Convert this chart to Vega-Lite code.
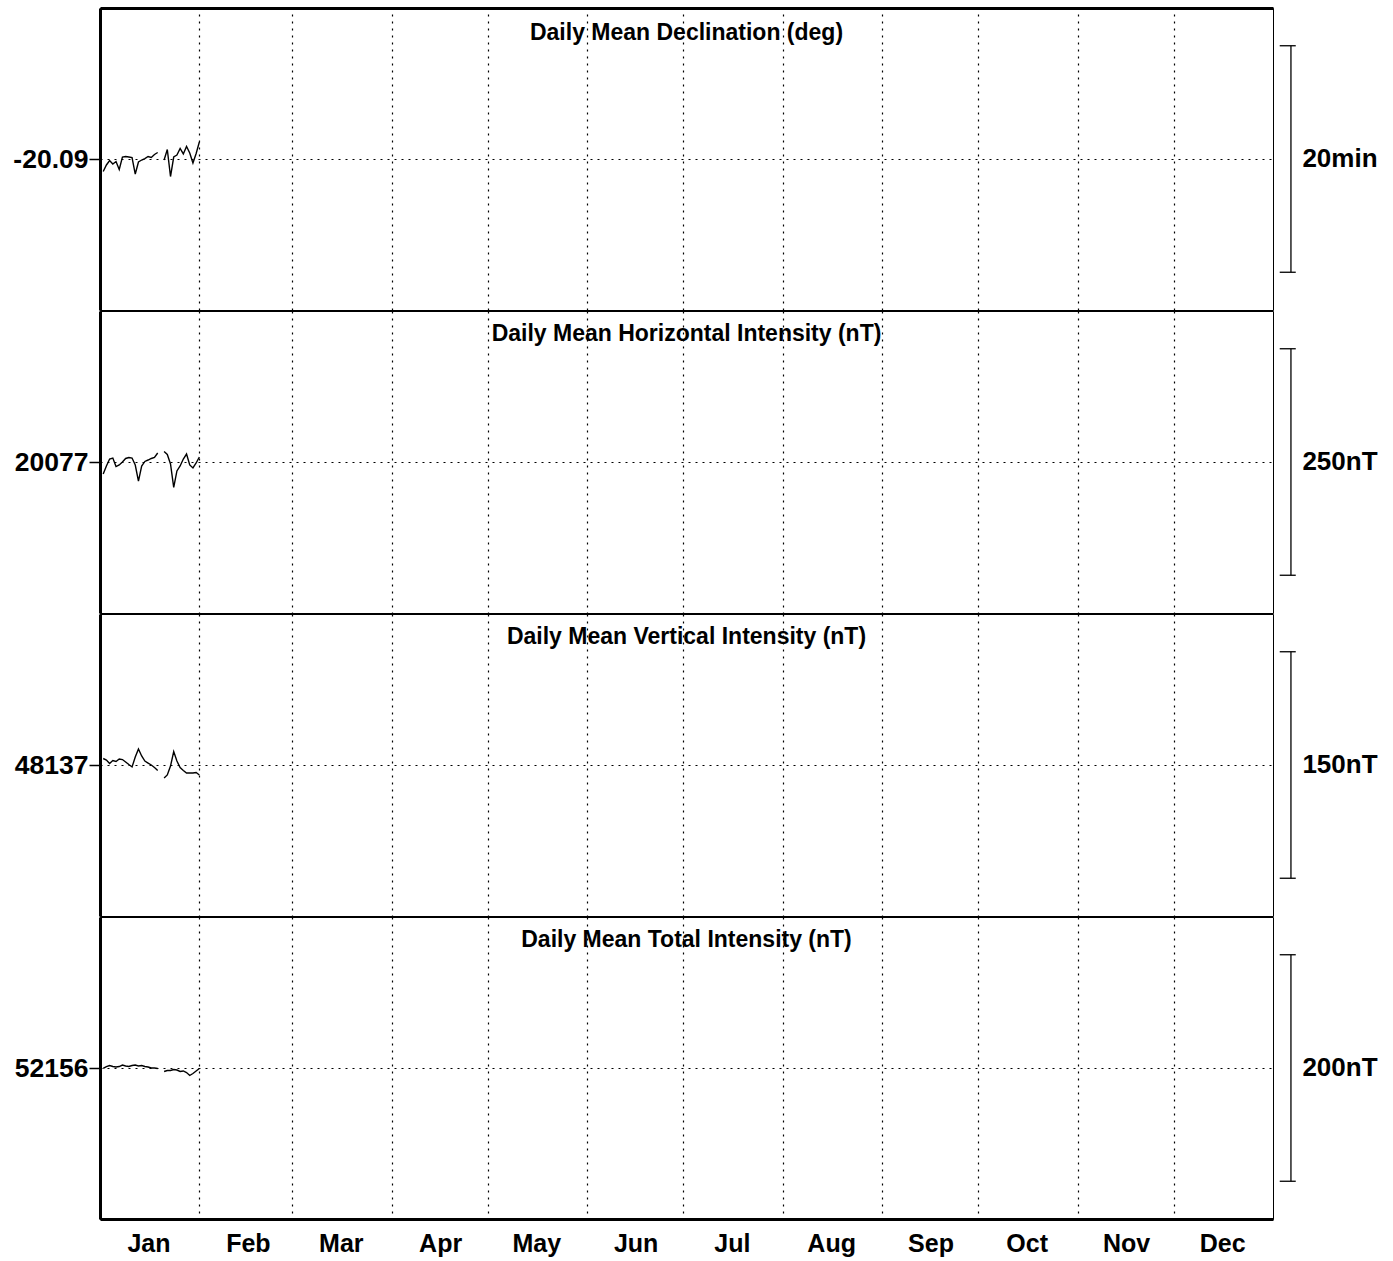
{
  "$schema": "https://vega.github.io/schema/vega-lite/v6.json",
  "background": "white",
  "padding": {"left": 7, "top": 7, "right": 5, "bottom": 5},
  "spacing": -4,
  "datasets": {
    "obs": [
      {"date": "2024-01-02T00:00:00", "seg": 1, "D": -20.1084, "H": 20063.8, "Z": 48141.3, "F": 52155.6},
      {"date": "2024-01-03T00:00:00", "seg": 1, "D": -20.0988, "H": 20072.6, "Z": 48140.3, "F": 52157.3},
      {"date": "2024-01-04T00:00:00", "seg": 1, "D": -20.0922, "H": 20080.3, "Z": 48138.0, "F": 52158.2},
      {"date": "2024-01-05T00:00:00", "seg": 1, "D": -20.0974, "H": 20081.4, "Z": 48140.0, "F": 52157.3},
      {"date": "2024-01-06T00:00:00", "seg": 1, "D": -20.0937, "H": 20072.0, "Z": 48139.3, "F": 52156.9},
      {"date": "2024-01-07T00:00:00", "seg": 1, "D": -20.1055, "H": 20073.7, "Z": 48141.0, "F": 52157.3},
      {"date": "2024-01-08T00:00:00", "seg": 1, "D": -20.0871, "H": 20077.0, "Z": 48140.6, "F": 52158.6},
      {"date": "2024-01-09T00:00:00", "seg": 1, "D": -20.0863, "H": 20080.9, "Z": 48139.0, "F": 52157.8},
      {"date": "2024-01-10T00:00:00", "seg": 1, "D": -20.0871, "H": 20082.0, "Z": 48137.3, "F": 52157.3},
      {"date": "2024-01-11T00:00:00", "seg": 1, "D": -20.0878, "H": 20081.4, "Z": 48135.7, "F": 52158.2},
      {"date": "2024-01-12T00:00:00", "seg": 1, "D": -20.1121, "H": 20073.7, "Z": 48142.3, "F": 52158.6},
      {"date": "2024-01-13T00:00:00", "seg": 1, "D": -20.0944, "H": 20056.0, "Z": 48147.6, "F": 52157.8},
      {"date": "2024-01-14T00:00:00", "seg": 1, "D": -20.0915, "H": 20072.6, "Z": 48143.0, "F": 52158.2},
      {"date": "2024-01-15T00:00:00", "seg": 1, "D": -20.0893, "H": 20077.6, "Z": 48139.6, "F": 52157.3},
      {"date": "2024-01-16T00:00:00", "seg": 1, "D": -20.0863, "H": 20079.2, "Z": 48138.3, "F": 52156.9},
      {"date": "2024-01-17T00:00:00", "seg": 1, "D": -20.0878, "H": 20080.9, "Z": 48137.0, "F": 52156.0},
      {"date": "2024-01-18T00:00:00", "seg": 1, "D": -20.0834, "H": 20082.0, "Z": 48135.3, "F": 52156.0},
      {"date": "2024-01-19T00:00:00", "seg": 1, "D": -20.0804, "H": 20086.9, "Z": 48133.4, "F": 52155.6},
      {"date": "2024-01-21T00:00:00", "seg": 2, "D": -20.0915, "H": 20088.6, "Z": 48128.4, "F": 52152.9},
      {"date": "2024-01-22T00:00:00", "seg": 2, "D": -20.0760, "H": 20085.3, "Z": 48130.4, "F": 52153.8},
      {"date": "2024-01-23T00:00:00", "seg": 2, "D": -20.1158, "H": 20074.8, "Z": 48136.3, "F": 52153.8},
      {"date": "2024-01-24T00:00:00", "seg": 2, "D": -20.0871, "H": 20048.9, "Z": 48145.9, "F": 52154.7},
      {"date": "2024-01-25T00:00:00", "seg": 2, "D": -20.0841, "H": 20067.1, "Z": 48139.6, "F": 52154.2},
      {"date": "2024-01-26T00:00:00", "seg": 2, "D": -20.0745, "H": 20072.6, "Z": 48135.3, "F": 52152.9},
      {"date": "2024-01-27T00:00:00", "seg": 2, "D": -20.0826, "H": 20080.3, "Z": 48133.4, "F": 52153.4},
      {"date": "2024-01-28T00:00:00", "seg": 2, "D": -20.0716, "H": 20085.8, "Z": 48131.7, "F": 52152.0},
      {"date": "2024-01-29T00:00:00", "seg": 2, "D": -20.0812, "H": 20073.7, "Z": 48131.7, "F": 52149.4},
      {"date": "2024-01-30T00:00:00", "seg": 2, "D": -20.0959, "H": 20070.4, "Z": 48131.7, "F": 52151.1},
      {"date": "2024-01-31T00:00:00", "seg": 2, "D": -20.0819, "H": 20075.9, "Z": 48132.0, "F": 52153.4},
      {"date": "2024-02-01T00:00:00", "seg": 2, "D": -20.0650, "H": 20082.5, "Z": 48130.4, "F": 52155.6}
    ]
  },
  "config": {
    "view": {"stroke": "black", "strokeWidth": 1},
    "font": "Liberation Sans",
    "axis": {"labelColor": "black", "labelFont": "Liberation Sans", "labelFontWeight": "bold", "gridColor": "black", "gridOpacity": 1, "gridDash": [2, 5], "gridWidth": 1.2, "domainColor": "black", "tickColor": "black"},
    "title": {"font": "Liberation Sans", "fontWeight": "bold", "fontSize": 23, "color": "black", "anchor": "middle", "frame": "group", "baseline": "middle", "offset": -35}
  },
  "vconcat": [
    {
      "width": 1173, "height": 302,
      "title": {"text": "Daily Mean Declination (deg)", "offset": -37},
      "resolve": {"axis": {"y": "independent"}},
      "layer": [
        {
          "data": {"name": "obs"},
          "mark": {"type": "line", "color": "black", "strokeWidth": 1.4},
          "encoding": {
            "x": {"field": "date", "type": "temporal", "scale": {"domain": [{"year": 2024, "month": 1, "date": 1}, {"year": 2025, "month": 1, "date": 1}]},
              "axis": {"orient": "top", "title": null, "labels": false, "ticks": false, "tickSize": 0, "domain": true, "domainWidth": 3, "grid": true,
                "values": [{"year": 2024, "month": 1, "date": 1}, {"year": 2024, "month": 2, "date": 1}, {"year": 2024, "month": 3, "date": 1}, {"year": 2024, "month": 4, "date": 1}, {"year": 2024, "month": 5, "date": 1}, {"year": 2024, "month": 6, "date": 1}, {"year": 2024, "month": 7, "date": 1}, {"year": 2024, "month": 8, "date": 1}, {"year": 2024, "month": 9, "date": 1}, {"year": 2024, "month": 10, "date": 1}, {"year": 2024, "month": 11, "date": 1}, {"year": 2024, "month": 12, "date": 1}]}},
            "y": {"field": "D", "type": "quantitative", "scale": {"domain": [-20.31222, -19.86778], "nice": false, "zero": false},
              "axis": {"orient": "left", "title": null, "values": [-20.09], "format": ".2f", "labelExpr": "replace(datum.label, '\u2212', '-')", "tickSize": 11, "tickWidth": 1.5, "labelPadding": 1, "labelFontSize": 26.5, "domain": true, "domainWidth": 3, "grid": true, "minExtent": 92, "maxExtent": 92}},
            "detail": {"field": "seg", "type": "nominal"}
          }
        },
        {
          "data": {"values": [{"lo": -20.25667, "hi": -19.92333, "mid": -20.09, "label": "20min"}]},
          "layer": [
            {"mark": {"type": "rule", "color": "black", "strokeWidth": 1.3},
             "encoding": {"x": {"datum": {"year": 2025, "month": 1, "date": 6, "hours": 14, "minutes": 24}}, "y": {"field": "lo", "type": "quantitative", "axis": null}, "y2": {"field": "hi"}}},
            {"mark": {"type": "rule", "color": "black", "strokeWidth": 1.3},
             "encoding": {"x": {"datum": {"year": 2025, "month": 1, "date": 3, "hours": 2, "minutes": 24}}, "x2": {"datum": {"year": 2025, "month": 1, "date": 8, "hours": 2, "minutes": 24}}, "y": {"field": "lo", "type": "quantitative", "axis": null}}},
            {"mark": {"type": "rule", "color": "black", "strokeWidth": 1.3},
             "encoding": {"x": {"datum": {"year": 2025, "month": 1, "date": 3, "hours": 2, "minutes": 24}}, "x2": {"datum": {"year": 2025, "month": 1, "date": 8, "hours": 2, "minutes": 24}}, "y": {"field": "hi", "type": "quantitative", "axis": null}}},
            {"mark": {"type": "text", "color": "black", "fontSize": 26, "fontWeight": "bold", "font": "Liberation Sans", "align": "center", "baseline": "middle"},
             "encoding": {"x": {"datum": {"year": 2025, "month": 1, "date": 21, "hours": 21, "minutes": 36}}, "text": {"field": "label"},
               "y": {"field": "mid", "type": "quantitative", "axis": {"orient": "right", "title": null, "labels": false, "ticks": true, "tickSize": -4, "tickWidth": 1.5, "values": [-20.09], "domain": true, "domainWidth": 3, "grid": false}}}}
          ]
        }
      ]
    },
    {
      "width": 1173, "height": 302,
      "title": {"text": "Daily Mean Horizontal Intensity (nT)"},
      "resolve": {"axis": {"y": "independent"}},
      "layer": [
        {
          "data": {"name": "obs"},
          "mark": {"type": "line", "color": "black", "strokeWidth": 1.4},
          "encoding": {
            "x": {"field": "date", "type": "temporal", "scale": {"domain": [{"year": 2024, "month": 1, "date": 1}, {"year": 2025, "month": 1, "date": 1}]},
              "axis": {"orient": "bottom", "title": null, "labels": false, "ticks": false, "tickSize": 0, "domain": false, "grid": true,
                "values": [{"year": 2024, "month": 1, "date": 1}, {"year": 2024, "month": 2, "date": 1}, {"year": 2024, "month": 3, "date": 1}, {"year": 2024, "month": 4, "date": 1}, {"year": 2024, "month": 5, "date": 1}, {"year": 2024, "month": 6, "date": 1}, {"year": 2024, "month": 7, "date": 1}, {"year": 2024, "month": 8, "date": 1}, {"year": 2024, "month": 9, "date": 1}, {"year": 2024, "month": 10, "date": 1}, {"year": 2024, "month": 11, "date": 1}, {"year": 2024, "month": 12, "date": 1}]}},
            "y": {"field": "H", "type": "quantitative", "scale": {"domain": [19910.333, 20243.667], "nice": false, "zero": false},
              "axis": {"orient": "left", "title": null, "values": [20077], "format": "d", "tickSize": 11, "tickWidth": 1.5, "labelPadding": 1, "labelFontSize": 26.5, "domain": true, "domainWidth": 3, "grid": true, "minExtent": 92, "maxExtent": 92}},
            "detail": {"field": "seg", "type": "nominal"}
          }
        },
        {
          "data": {"values": [{"lo": 19952, "hi": 20202, "mid": 20077, "label": "250nT"}]},
          "layer": [
            {"mark": {"type": "rule", "color": "black", "strokeWidth": 1.3},
             "encoding": {"x": {"datum": {"year": 2025, "month": 1, "date": 6, "hours": 14, "minutes": 24}}, "y": {"field": "lo", "type": "quantitative", "axis": null}, "y2": {"field": "hi"}}},
            {"mark": {"type": "rule", "color": "black", "strokeWidth": 1.3},
             "encoding": {"x": {"datum": {"year": 2025, "month": 1, "date": 3, "hours": 2, "minutes": 24}}, "x2": {"datum": {"year": 2025, "month": 1, "date": 8, "hours": 2, "minutes": 24}}, "y": {"field": "lo", "type": "quantitative", "axis": null}}},
            {"mark": {"type": "rule", "color": "black", "strokeWidth": 1.3},
             "encoding": {"x": {"datum": {"year": 2025, "month": 1, "date": 3, "hours": 2, "minutes": 24}}, "x2": {"datum": {"year": 2025, "month": 1, "date": 8, "hours": 2, "minutes": 24}}, "y": {"field": "hi", "type": "quantitative", "axis": null}}},
            {"mark": {"type": "text", "color": "black", "fontSize": 26, "fontWeight": "bold", "font": "Liberation Sans", "align": "center", "baseline": "middle"},
             "encoding": {"x": {"datum": {"year": 2025, "month": 1, "date": 21, "hours": 21, "minutes": 36}}, "text": {"field": "label"},
               "y": {"field": "mid", "type": "quantitative", "axis": {"orient": "right", "title": null, "labels": false, "ticks": true, "tickSize": -4, "tickWidth": 1.5, "values": [20077], "domain": true, "domainWidth": 3, "grid": false}}}}
          ]
        }
      ]
    },
    {
      "width": 1173, "height": 302,
      "title": {"text": "Daily Mean Vertical Intensity (nT)"},
      "resolve": {"axis": {"y": "independent"}},
      "layer": [
        {
          "data": {"name": "obs"},
          "mark": {"type": "line", "color": "black", "strokeWidth": 1.4},
          "encoding": {
            "x": {"field": "date", "type": "temporal", "scale": {"domain": [{"year": 2024, "month": 1, "date": 1}, {"year": 2025, "month": 1, "date": 1}]},
              "axis": {"orient": "bottom", "title": null, "labels": false, "ticks": false, "tickSize": 0, "domain": false, "grid": true,
                "values": [{"year": 2024, "month": 1, "date": 1}, {"year": 2024, "month": 2, "date": 1}, {"year": 2024, "month": 3, "date": 1}, {"year": 2024, "month": 4, "date": 1}, {"year": 2024, "month": 5, "date": 1}, {"year": 2024, "month": 6, "date": 1}, {"year": 2024, "month": 7, "date": 1}, {"year": 2024, "month": 8, "date": 1}, {"year": 2024, "month": 9, "date": 1}, {"year": 2024, "month": 10, "date": 1}, {"year": 2024, "month": 11, "date": 1}, {"year": 2024, "month": 12, "date": 1}]}},
            "y": {"field": "Z", "type": "quantitative", "scale": {"domain": [48037, 48237], "nice": false, "zero": false},
              "axis": {"orient": "left", "title": null, "values": [48137], "format": "d", "tickSize": 11, "tickWidth": 1.5, "labelPadding": 1, "labelFontSize": 26.5, "domain": true, "domainWidth": 3, "grid": true, "minExtent": 92, "maxExtent": 92}},
            "detail": {"field": "seg", "type": "nominal"}
          }
        },
        {
          "data": {"values": [{"lo": 48062, "hi": 48212, "mid": 48137, "label": "150nT"}]},
          "layer": [
            {"mark": {"type": "rule", "color": "black", "strokeWidth": 1.3},
             "encoding": {"x": {"datum": {"year": 2025, "month": 1, "date": 6, "hours": 14, "minutes": 24}}, "y": {"field": "lo", "type": "quantitative", "axis": null}, "y2": {"field": "hi"}}},
            {"mark": {"type": "rule", "color": "black", "strokeWidth": 1.3},
             "encoding": {"x": {"datum": {"year": 2025, "month": 1, "date": 3, "hours": 2, "minutes": 24}}, "x2": {"datum": {"year": 2025, "month": 1, "date": 8, "hours": 2, "minutes": 24}}, "y": {"field": "lo", "type": "quantitative", "axis": null}}},
            {"mark": {"type": "rule", "color": "black", "strokeWidth": 1.3},
             "encoding": {"x": {"datum": {"year": 2025, "month": 1, "date": 3, "hours": 2, "minutes": 24}}, "x2": {"datum": {"year": 2025, "month": 1, "date": 8, "hours": 2, "minutes": 24}}, "y": {"field": "hi", "type": "quantitative", "axis": null}}},
            {"mark": {"type": "text", "color": "black", "fontSize": 26, "fontWeight": "bold", "font": "Liberation Sans", "align": "center", "baseline": "middle"},
             "encoding": {"x": {"datum": {"year": 2025, "month": 1, "date": 21, "hours": 21, "minutes": 36}}, "text": {"field": "label"},
               "y": {"field": "mid", "type": "quantitative", "axis": {"orient": "right", "title": null, "labels": false, "ticks": true, "tickSize": -4, "tickWidth": 1.5, "values": [48137], "domain": true, "domainWidth": 3, "grid": false}}}}
          ]
        }
      ]
    },
    {
      "width": 1173, "height": 302,
      "title": {"text": "Daily Mean Total Intensity (nT)"},
      "resolve": {"axis": {"y": "independent"}},
      "layer": [
        {
          "data": {"name": "obs"},
          "mark": {"type": "line", "color": "black", "strokeWidth": 1.4},
          "encoding": {
            "x": {"field": "date", "type": "temporal", "scale": {"domain": [{"year": 2024, "month": 1, "date": 1}, {"year": 2025, "month": 1, "date": 1}]},
              "axis": {"orient": "bottom", "title": null, "labels": true, "format": "%b", "labelOffset": 48.5, "labelAlign": "center", "labelBaseline": "top", "labelPadding": 12, "labelFontSize": 25, "labelFlush": false, "labelOverlap": false, "ticks": false, "tickSize": 0, "domain": true, "domainWidth": 3, "grid": true,
                "values": [{"year": 2024, "month": 1, "date": 1}, {"year": 2024, "month": 2, "date": 1}, {"year": 2024, "month": 3, "date": 1}, {"year": 2024, "month": 4, "date": 1}, {"year": 2024, "month": 5, "date": 1}, {"year": 2024, "month": 6, "date": 1}, {"year": 2024, "month": 7, "date": 1}, {"year": 2024, "month": 8, "date": 1}, {"year": 2024, "month": 9, "date": 1}, {"year": 2024, "month": 10, "date": 1}, {"year": 2024, "month": 11, "date": 1}, {"year": 2024, "month": 12, "date": 1}]}},
            "y": {"field": "F", "type": "quantitative", "scale": {"domain": [52022.667, 52289.333], "nice": false, "zero": false},
              "axis": {"orient": "left", "title": null, "values": [52156], "format": "d", "tickSize": 11, "tickWidth": 1.5, "labelPadding": 1, "labelFontSize": 26.5, "domain": true, "domainWidth": 3, "grid": true, "minExtent": 92, "maxExtent": 92}},
            "detail": {"field": "seg", "type": "nominal"}
          }
        },
        {
          "data": {"values": [{"lo": 52056, "hi": 52256, "mid": 52156, "label": "200nT"}]},
          "layer": [
            {"mark": {"type": "rule", "color": "black", "strokeWidth": 1.3},
             "encoding": {"x": {"datum": {"year": 2025, "month": 1, "date": 6, "hours": 14, "minutes": 24}}, "y": {"field": "lo", "type": "quantitative", "axis": null}, "y2": {"field": "hi"}}},
            {"mark": {"type": "rule", "color": "black", "strokeWidth": 1.3},
             "encoding": {"x": {"datum": {"year": 2025, "month": 1, "date": 3, "hours": 2, "minutes": 24}}, "x2": {"datum": {"year": 2025, "month": 1, "date": 8, "hours": 2, "minutes": 24}}, "y": {"field": "lo", "type": "quantitative", "axis": null}}},
            {"mark": {"type": "rule", "color": "black", "strokeWidth": 1.3},
             "encoding": {"x": {"datum": {"year": 2025, "month": 1, "date": 3, "hours": 2, "minutes": 24}}, "x2": {"datum": {"year": 2025, "month": 1, "date": 8, "hours": 2, "minutes": 24}}, "y": {"field": "hi", "type": "quantitative", "axis": null}}},
            {"mark": {"type": "text", "color": "black", "fontSize": 26, "fontWeight": "bold", "font": "Liberation Sans", "align": "center", "baseline": "middle"},
             "encoding": {"x": {"datum": {"year": 2025, "month": 1, "date": 21, "hours": 21, "minutes": 36}}, "text": {"field": "label"},
               "y": {"field": "mid", "type": "quantitative", "axis": {"orient": "right", "title": null, "labels": false, "ticks": true, "tickSize": -4, "tickWidth": 1.5, "values": [52156], "domain": true, "domainWidth": 3, "grid": false}}}}
          ]
        }
      ]
    }
  ]
}
